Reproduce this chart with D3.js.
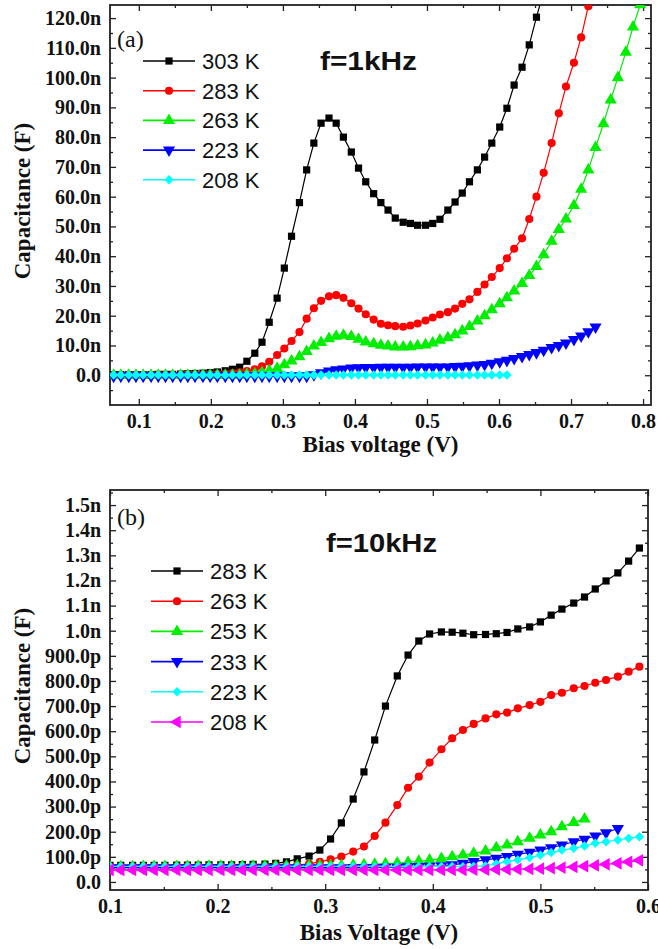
<!DOCTYPE html>
<html>
<head>
<meta charset="utf-8">
<script src="https://cdn.jsdelivr.net/npm/d3@7"></script>
<style>
body { margin: 0; background: #fff; }
svg text { fill: #111; }
</style>
</head>
<body>
<div id="chart"></div>
<script>
// ---- panel (a), f = 1 kHz, capacitance in nF ----
var voltsA = [0.065,0.075,0.086,0.096,0.106,0.117,0.127,0.137,0.147,0.158,
              0.168,0.178,0.189,0.199,0.209,0.220,0.230,0.240,0.250,0.261,
              0.271,0.281,0.292,0.302,0.312,0.323,0.333,0.343,0.353,0.364,
              0.374,0.384,0.395,0.405,0.415,0.426,0.436,0.446,0.456,0.467,
              0.477,0.487,0.498,0.508,0.518,0.529,0.539,0.549,0.559,0.570,
              0.580,0.590,0.601,0.611,0.621,0.632,0.642,0.652,0.662,0.673,
              0.683,0.693,0.704,0.714,0.724,0.734,0.745,0.755,0.765,0.776,
              0.786,0.796];
var c303 = [0.2,0.2,0.2,0.2,0.2,0.2,0.3,0.3,0.3,0.4,
            0.5,0.6,0.7,0.9,1.1,1.5,2.0,2.7,4.7,7.4,
            11.1,17.8,25.9,36.0,46.7,58.0,69.0,78.0,84.7,86.4,
            84.7,80.0,75.0,69.6,65.0,61.0,58.0,55.5,52.8,51.4,
            51.0,50.4,50.4,51.0,52.4,55.5,58.2,61.2,65.0,69.0,
            73.3,78.0,83.4,89.7,97.5,103.5,111.0,120.3,129.0];
var c283 = [0.1,0.1,0.1,0.1,0.1,0.1,0.1,0.1,0.1,0.1,
            0.2,0.2,0.2,0.3,0.4,0.5,0.7,1.0,1.4,2.0,
            3.0,4.5,6.8,9.0,11.5,14.5,19.0,22.5,25.0,26.5,
            26.9,26.0,24.2,22.4,20.5,18.7,17.3,16.8,16.5,16.3,
            16.7,17.4,18.4,19.4,20.4,21.2,22.4,24.0,25.5,28.0,
            30.5,33.0,36.0,39.3,42.5,46.0,52.5,60.0,68.0,78.0,
            88.0,97.0,105.0,113.5,124.0];
var c263 = [0,0,0,0,0,0,0,0,0,0,
            0,0,0,0,0,0,0,0,0.3,0.5,
            0.9,1.5,2.3,3.5,4.8,6.2,8.0,9.8,11.0,12.3,
            13.1,13.4,13.0,12.1,11.2,10.6,10.1,9.8,9.5,9.5,
            9.6,9.9,10.2,10.8,11.8,12.6,13.6,14.9,16.4,18.2,
            20.0,22.0,24.0,26.0,28.3,30.8,33.5,36.5,40.5,45.0,
            49.0,52.5,57.0,62.5,69.0,76.5,84.5,92.5,100.0,108.5,
            117.0,124.5];
var c223 = [-0.3,-0.3,-0.3,-0.3,-0.3,-0.3,-0.3,-0.3,-0.3,-0.3,
            -0.3,-0.3,-0.3,-0.3,-0.3,-0.3,-0.3,-0.3,-0.3,-0.3,
            -0.3,-0.3,-0.3,-0.3,-0.3,-0.3,-0.3,0.2,0.8,1.4,
            1.8,2.1,2.4,2.5,2.6,2.6,2.7,2.7,2.7,2.7,
            2.7,2.8,2.8,2.8,2.8,2.8,2.9,3.0,3.2,3.4,
            3.6,4.0,4.5,5.0,5.6,6.3,7.0,7.6,8.4,9.3,
            10.0,10.8,12.0,13.2,14.6,16.2];
var c208 = [0.1,0.1,0.1,0.1,0.1,0.1,0.1,0.1,0.1,0.1,
            0.1,0.1,0.1,0.1,0.1,0.1,0.1,0.1,0.1,0.1,
            0.1,0.1,0.1,0.1,0.1,0.1,0.1,0.1,0.1,0.1,
            0.1,0.1,0.1,0.1,0.1,0.1,0.1,0.1,0.1,0.1,
            0.1,0.1,0.1,0.1,0.1,0.1,0.1,0.1,0.1,0.1,
            0.1,0.1,0.1,0.1];
var labelsA = ["303 K", "283 K", "263 K", "223 K", "208 K"];
var xTicksA = [0.1, 0.2, 0.3, 0.4, 0.5, 0.6, 0.7, 0.8];
var yTicksA = [0, 10, 20, 30, 40, 50, 60, 70, 80, 90, 100, 110, 120];

// ---- panel (b), f = 10 kHz, capacitance in pF ----
var voltsB = [0.100,0.110,0.121,0.131,0.141,0.151,0.162,0.172,0.182,0.192,
              0.203,0.213,0.223,0.233,0.244,0.254,0.264,0.274,0.285,0.295,
              0.305,0.315,0.326,0.336,0.346,0.356,0.367,0.377,0.387,0.397,
              0.408,0.418,0.428,0.438,0.449,0.459,0.469,0.479,0.490,0.500,
              0.510,0.520,0.531,0.541,0.551,0.561,0.572,0.582,0.592];
var b283 = [66,66,66,66,66,66,67,67,67,68,
            68,68,69,70,71,74,80,92,103,127,
            171,235,330,438,565,700,820,903,959,987,
            995,994,990,984,985,988,993,1007,1015,1035,
            1062,1086,1110,1134,1166,1198,1230,1277,1329];
var b263 = [60,60,60,61,61,61,61,62,62,62,
            62,62,63,63,63,64,64,67,72,80,
            90,101,121,141,183,236,306,375,419,475,
            528,572,605,629,651,667,674,691,704,717,
            744,753,771,780,793,804,817,837,857];
var b253 = [60,60,60,61,61,61,61,61,62,62,
            62,62,62,63,63,63,63,64,64,64,
            65,65,66,68,70,72,75,78,82,87,
            93,100,107,114,123,136,147,160,174,187,
            200,220,237,251];
var b233 = [57,57,57,57,57,57,57,57,57,57,
            57,57,57,57,57,57,57,57,57,57,
            57,57,58,58,58,59,59,60,61,62,
            64,68,74,81,88,94,101,110,118,127,
            136,147,160,170,183,196,213];
var b223 = [62,62,62,62,62,62,62,62,62,62,
            62,62,62,62,62,62,62,62,62,62,
            62,62,62,62,62,62,62,62,62,62,
            62,62,61,62,64,72,81,88,97,107,
            117,127,134,143,154,160,167,174,180];
var b208 = [48,48,48,48,48,48,48,48,48,48,
            48,48,48,48,48,48,48,48,48,48,
            48,48,48,48,48,48,48,48,48,48,
            48,48,48,49,49,50,50,51,52,53,
            55,57,60,63,66,70,74,80,86];
var labelsB = ["283 K", "263 K", "253 K", "233 K", "223 K", "208 K"];
var xTicksB = [0.1, 0.2, 0.3, 0.4, 0.5, 0.6];
var yTicksB = [0, 100, 200, 300, 400, 500, 600, 700, 800, 900, 1000, 1100, 1200, 1300, 1400, 1500];

var width = 658, height = 949;

var svg = d3.select("#chart").append("svg")
            .attr("width", width)
            .attr("height", height);

var serif = "'Liberation Serif', 'Times New Roman', serif";
var sans = "'Liberation Sans', Arial, sans-serif";

// marker shapes: [symbol type, size, rotation]
var markers = {
  square:   [d3.symbolSquare, 52, 0],
  circle:   [d3.symbolCircle, 52, 0],
  up:       [d3.symbolTriangle, 64, 0],
  down:     [d3.symbolTriangle, 64, 180],
  diamond:  [d3.symbolSquare, 44, 45],
  left:     [d3.symbolTriangle, 70, -90]
};

function drawMarker(g, kind, color, cx, cy) {
  var m = markers[kind];
  g.append("path")
   .attr("d", d3.symbol().type(m[0]).size(m[1])())
   .attr("transform", "translate(" + cx + "," + cy + ") rotate(" + m[2] + ")")
   .attr("fill", color);
}

function drawPanel(p) {
  var x = d3.scaleLinear().domain(p.xDomain).range([p.left, p.right]);
  var y = d3.scaleLinear().domain(p.yDomain).range([p.bottom, p.top]);

  svg.append("clipPath").attr("id", p.id)
     .append("rect")
     .attr("x", p.left).attr("y", p.top)
     .attr("width", p.right - p.left).attr("height", p.bottom - p.top);

  // axes, ticks pointing inward
  function styleAxis(g) {
    g.select(".domain").remove();
    g.selectAll("line").attr("stroke", "#222").attr("stroke-width", 1.3);
    g.selectAll("text")
     .style("font-family", serif)
     .style("font-weight", "bold")
     .style("font-size", "20px")
     .attr("fill", "#111");
  }

  svg.append("g")
     .attr("transform", "translate(0," + p.bottom + ")")
     .call(d3.axisBottom(x).tickValues(p.xTicks).tickSize(-6).tickPadding(9)
             .tickFormat(d3.format(".1f")))
     .call(styleAxis);
  svg.append("g")
     .attr("transform", "translate(0," + p.bottom + ")")
     .call(d3.axisBottom(x).tickValues(p.xMinor).tickSize(-3).tickFormat(""))
     .call(styleAxis);
  svg.append("g")
     .attr("transform", "translate(0," + p.top + ")")
     .call(d3.axisTop(x).tickValues(p.xTicks).tickSize(-6).tickFormat(""))
     .call(styleAxis);
  svg.append("g")
     .attr("transform", "translate(0," + p.top + ")")
     .call(d3.axisTop(x).tickValues(p.xMinor).tickSize(-3).tickFormat(""))
     .call(styleAxis);

  svg.append("g")
     .attr("transform", "translate(" + p.left + ",0)")
     .call(d3.axisLeft(y).tickValues(p.yTicks).tickSize(-6).tickPadding(9)
             .tickFormat(p.yFormat))
     .call(styleAxis);
  svg.append("g")
     .attr("transform", "translate(" + p.left + ",0)")
     .call(d3.axisLeft(y).tickValues(p.yMinor).tickSize(-3).tickFormat(""))
     .call(styleAxis);
  svg.append("g")
     .attr("transform", "translate(" + p.right + ",0)")
     .call(d3.axisRight(y).tickValues(p.yTicks).tickSize(-6).tickFormat(""))
     .call(styleAxis);
  svg.append("g")
     .attr("transform", "translate(" + p.right + ",0)")
     .call(d3.axisRight(y).tickValues(p.yMinor).tickSize(-3).tickFormat(""))
     .call(styleAxis);

  // frame
  svg.append("rect")
     .attr("x", p.left).attr("y", p.top)
     .attr("width", p.right - p.left).attr("height", p.bottom - p.top)
     .attr("fill", "none").attr("stroke", "#222").attr("stroke-width", 1.8);

  var line = d3.line()
               .x(function(d){ return x(d[0]); })
               .y(function(d){ return y(d[1]); });

  var plot = svg.append("g").attr("clip-path", "url(#" + p.id + ")");

  p.series.forEach(function(s){
    var pts = d3.zip(p.volts.slice(0, s.values.length), s.values);
    var g = plot.append("g");
    g.append("path")
     .attr("d", line(pts))
     .attr("fill", "none")
     .attr("stroke", s.color)
     .attr("stroke-width", 1.2);
    pts.forEach(function(d){
      drawMarker(g, s.marker, s.color, x(d[0]), y(d[1]));
    });
  });

  // legend
  p.series.forEach(function(s, i){
    var ly = p.legendY + i * p.legendStep;
    svg.append("line")
       .attr("x1", p.legendX).attr("x2", p.legendX + 52)
       .attr("y1", ly).attr("y2", ly)
       .attr("stroke", s.color).attr("stroke-width", 1.6);
    drawMarker(svg, s.marker, s.color, p.legendX + 26, ly);
    svg.append("text")
       .attr("x", p.legendX + 59).attr("y", ly + 8)
       .style("font-family", sans).style("font-size", "22px")
       .text(s.label);
  });

  // panel letter and frequency
  svg.append("text")
     .attr("x", p.left + 7).attr("y", p.top + p.letterDy)
     .style("font-family", serif).style("font-size", "24px")
     .text(p.letter);
  svg.append("text")
     .attr("x", p.freqX).attr("y", p.freqY)
     .attr("textLength", p.freqW).attr("lengthAdjust", "spacingAndGlyphs")
     .style("font-family", sans).style("font-weight", "bold").style("font-size", "25px")
     .text(p.freq);

  // axis titles
  svg.append("text")
     .attr("x", (p.left + p.right) / 2).attr("y", p.xTitleY)
     .attr("text-anchor", "middle")
     .style("font-family", serif).style("font-weight", "bold").style("font-size", "23px")
     .text(p.xTitle);
  svg.append("text")
     .attr("transform", "translate(30," + ((p.top + p.bottom) / 2 - 4) + ") rotate(-90)")
     .attr("text-anchor", "middle")
     .style("font-family", serif).style("font-weight", "bold").style("font-size", "23px")
     .text("Capacitance (F)");
}

var colors = ["#000000", "#ff0000", "#00ee00", "#0000ff", "#00ffff", "#ff00ff"];

drawPanel({
  id: "clipA", left: 110, right: 651, top: 5, bottom: 405,
  xDomain: [0.06, 0.811], yDomain: [-10, 124.4],
  xTicks: xTicksA, xMinor: d3.range(0.15, 0.8, 0.1),
  yTicks: yTicksA, yMinor: d3.range(-5, 124, 10),
  yFormat: function(d){ return d === 0 ? "0.0" : d.toFixed(1) + "n"; },
  volts: voltsA,
  series: [
    {label: labelsA[0], values: c303, color: colors[0], marker: "square"},
    {label: labelsA[1], values: c283, color: colors[1], marker: "circle"},
    {label: labelsA[2], values: c263, color: colors[2], marker: "up"},
    {label: labelsA[3], values: c223, color: colors[3], marker: "down"},
    {label: labelsA[4], values: c208, color: colors[4], marker: "diamond"}
  ],
  legendX: 143, legendY: 61, legendStep: 29.7,
  letter: "(a)", letterDy: 42,
  freq: "f=1kHz", freqX: 320, freqY: 70, freqW: 97,
  xTitle: "Bias voltage (V)", xTitleY: 452
});

drawPanel({
  id: "clipB", left: 110, right: 648, top: 490, bottom: 890,
  xDomain: [0.1, 0.6], yDomain: [-32, 1560],
  xTicks: xTicksB, xMinor: d3.range(0.15, 0.6, 0.1),
  yTicks: yTicksB, yMinor: d3.range(50, 1560, 100),
  yFormat: function(d){
    if (d === 0) return "0.0";
    return d < 1000 ? d.toFixed(1) + "p" : (d / 1000).toFixed(1) + "n";
  },
  volts: voltsB,
  series: [
    {label: labelsB[0], values: b283, color: colors[0], marker: "square"},
    {label: labelsB[1], values: b263, color: colors[1], marker: "circle"},
    {label: labelsB[2], values: b253, color: colors[2], marker: "up"},
    {label: labelsB[3], values: b233, color: colors[3], marker: "down"},
    {label: labelsB[4], values: b223, color: colors[4], marker: "diamond"},
    {label: labelsB[5], values: b208, color: colors[5], marker: "left"}
  ],
  legendX: 151, legendY: 571, legendStep: 30.2,
  letter: "(b)", letterDy: 35,
  freq: "f=10kHz", freqX: 326, freqY: 552, freqW: 111,
  xTitle: "Bias Voltage (V)", xTitleY: 940
});
</script>
</body>
</html>
